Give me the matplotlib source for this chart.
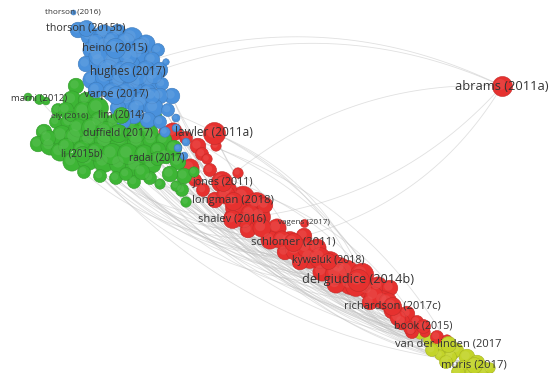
import numpy as np
import matplotlib
matplotlib.use("Agg")
import matplotlib.pyplot as plt
from matplotlib.collections import LineCollection
from matplotlib.colors import to_rgb

plt.rcParams['font.family'] = ['Open Sans', 'DejaVu Sans']

# labelled publications: map position, label weight, node radius, cluster
labels = ["thorson (2016)", "thorson (2015b)", "heino (2015)", "hughes (2017)",
          "varpe (2017)", "marni (2012)", "ely (2016)", "lim (2014)",
          "duffield (2017)", "lawler (2011a)", "li (2015b)", "radai (2017)",
          "jones (2011)", "longman (2018)", "shalev (2016)", "vagens (2017)",
          "schlomer (2011)", "kyweluk (2018)", "del giudice (2014b)",
          "richardson (2017c)", "book (2015)", "van der linden (2017",
          "muris (2017)", "abrams (2011a)"]
label_x = [73, 86, 115, 128, 116, 39, 70, 121, 118, 214, 82, 157,
           223, 233, 232, 304, 293, 328, 358, 392, 423, 448, 474, 502]
label_y = [12, 28, 48, 72, 95, 99, 116, 115, 133, 133, 154, 158,
           183, 201, 219, 223, 242, 261, 280, 306, 326, 344, 365, 86]
label_w = [3.8, 7.5, 8.2, 8.6, 8.0, 5.6, 4.1, 6.4, 7.0, 9.3, 6.0, 6.4,
           7.5, 8.3, 8.0, 3.8, 8.3, 7.2, 10.3, 8.0, 7.4, 8.0, 8.2, 10.5]
label_r = [2.5, 8, 10, 10, 9, 5, 5, 8, 9, 11, 8, 7,
           8, 9, 9, 4, 9, 8, 11, 9, 7, 8, 8, 10]
label_cluster = ["blue", "blue", "blue", "blue", "blue", "green", "green", "green",
                 "green", "red", "green", "green", "red", "red", "red", "red",
                 "red", "red", "red", "red", "red", "yellow", "yellow", "red"]

# unlabelled publications per cluster
blue_x = [78, 90, 104, 118, 132, 146, 158, 92, 106, 122, 138, 152, 86, 100, 114,
          130, 146, 160, 166, 92, 106, 120, 136, 150, 162, 172, 160, 128, 142, 154,
          168, 118, 134, 148, 160, 165, 176, 178, 186, 184, 176,
          96, 112, 126, 140, 98, 128, 108, 122, 138, 154, 96, 112, 126, 148, 136,
          152, 124]
blue_y = [30, 36, 34, 32, 38, 44, 50, 50, 46, 48, 54, 60, 64, 62, 62,
          66, 70, 70, 62, 80, 78, 82, 84, 82, 84, 96, 96, 100, 102, 108,
          110, 108, 116, 120, 122, 132, 118, 148, 142, 156, 128,
          42, 40, 42, 46, 56, 56, 70, 72, 76, 76, 90, 92, 92, 92, 108,
          96, 122]
blue_w = [6, 7, 7, 6, 8, 7, 5, 7, 8, 8, 8, 6, 6, 8, 9,
          8, 7, 6, 2.5, 7, 8, 8, 8, 7, 5, 6, 6, 7, 8, 7,
          5, 6, 6, 6, 5, 4, 3, 3, 3, 3, 3,
          6, 6, 7, 6, 7, 7, 8, 8, 7, 6, 6, 7, 7, 6, 6,
          6, 5]

green_x = [28, 46, 76, 72, 86, 58, 56, 70, 84, 98, 100, 116, 132, 146, 156, 44,
           38, 50, 62, 76, 90, 106, 122, 138, 152, 164, 60, 72, 88, 104, 120,
           136, 152, 166, 174, 178, 184, 170, 150, 134, 116, 100, 182, 186, 176,
           194, 160,
           66, 78, 92, 106, 120, 136, 150, 48, 82, 96, 112, 128, 144, 158, 66,
           84, 126, 142]
green_y = [97, 101, 86, 100, 100, 110, 122, 122, 112, 108, 122, 124, 124, 128, 118, 132,
           144, 146, 136, 138, 140, 142, 140, 142, 140, 140, 152, 162, 160, 162, 164,
           166, 164, 156, 148, 162, 176, 174, 178, 182, 178, 176, 190, 202, 186,
           172, 184,
           110, 128, 128, 132, 132, 134, 132, 138, 150, 152, 154, 154, 154, 150, 146,
           172, 174, 172]
green_w = [3, 3, 6, 7, 6, 5, 5, 7, 8, 8, 8, 8, 8, 7, 5, 6,
           6, 7, 8, 9, 8, 9, 9, 8, 7, 6, 7, 7, 8, 8, 8,
           8, 7, 6, 6, 6, 6, 6, 5, 5, 5, 5, 5, 4, 4,
           4, 4,
           6, 7, 8, 8, 8, 7, 6, 6, 7, 7, 8, 8, 7, 6, 6,
           5, 5, 6]

red_x = [143, 173, 164, 186, 198, 202, 207, 190, 210, 238, 203, 222, 195, 243, 257,
         215, 233, 260, 248, 277, 270, 290, 304, 317, 310, 330, 322, 340, 347, 362,
         350, 336, 368, 378, 390, 383, 370, 393, 407, 402, 417, 412, 425, 437, 447,
         229, 285, 300,
         216, 226, 236, 250, 262, 282, 296, 306, 320, 336, 356, 374, 388, 398, 410,
         265, 244]
red_y = [98, 132, 132, 138, 146, 154, 159, 168, 170, 173, 190, 182, 180, 198, 203,
         200, 218, 217, 230, 228, 240, 242, 236, 248, 258, 262, 272, 268, 272, 275,
         284, 284, 290, 286, 288, 300, 302, 310, 314, 322, 322, 332, 332, 337, 340,
         190, 252, 262,
         146, 195, 208, 214, 228, 240, 250, 248, 258, 274, 286, 296, 302, 318, 328,
         205, 220]
red_w = [5, 7, 4, 5, 6, 5, 4, 7, 5, 4, 5, 8, 5, 9, 8,
         6, 7, 8, 6, 7, 7, 8, 6, 7, 8, 8, 7, 8, 9, 9,
         8, 7, 7, 7, 6, 7, 6, 7, 6, 6, 5, 5, 4, 5, 4,
         6, 6, 6,
         4, 7, 8, 7, 7, 7, 8, 7, 8, 8, 8, 7, 7, 6, 5,
         6, 6]

yellow_x = [420, 430, 443, 452, 457, 467, 477, 485, 450, 463, 440, 472,
            432, 446, 458, 490]
yellow_y = [334, 340, 347, 352, 350, 357, 363, 370, 357, 367, 355, 372,
            350, 362, 372, 368]
yellow_w = [4, 5, 6, 6, 5, 6, 6, 6, 5, 5, 4, 5,
            5, 5, 5, 4]

# co-citation links (n = labelled, b/g/r/y = cluster index)
edges = [
    ("n23", "b17"), ("n23", "b11"), ("n23", "n12"), ("r22", "n23"), ("n14", "n23"),
    ("g21", "r29"), ("g22", "n18"), ("g23", "n19"), ("g30", "r35"), ("g31", "n20"),
    ("g28", "r24"), ("g29", "n17"), ("g19", "n16"), ("g10", "r27"), ("g11", "n21"),
    ("g12", "y3"), ("g13", "n22"), ("g20", "r32"), ("g24", "r37"), ("g25", "y5"),
    ("g32", "r38"), ("g33", "r41"), ("g34", "n19"), ("g35", "y2"), ("g36", "n22"),
    ("g37", "r43"), ("g38", "r33"), ("g39", "n18"), ("g40", "r25"), ("g41", "r31"),
    ("g27", "r20"), ("g41", "r24"), ("g40", "r18"), ("g18", "n14"), ("n8", "r29"),
    ("n10", "n18"), ("n11", "n19"), ("n7", "r34"), ("n6", "r26"), ("n5", "n13"),
    ("n10", "y6"), ("g39", "r36"), ("g38", "n21"),
    ("b25", "r30"), ("b26", "n20"), ("b28", "r36"), ("b29", "y6"), ("b30", "n21"),
    ("b33", "r28"), ("b34", "r39"), ("b22", "n18"), ("b23", "n19"), ("b16", "r25"),
    ("b17", "r37"), ("n3", "n18"), ("n4", "r33"), ("n2", "n16"), ("b35", "r40"),
    ("b37", "y1"), ("b38", "r42"), ("b39", "n17"), ("b36", "r44"),
    ("n9", "n18"), ("n9", "n19"), ("r1", "r29"), ("r3", "r35"), ("r4", "n20"),
    ("r7", "n17"), ("r11", "r31"), ("n12", "n21"), ("n13", "y4"), ("r13", "r37"),
    ("r14", "r40"), ("n14", "n22"), ("r16", "r38"), ("r17", "y7"), ("r19", "n21"),
    ("n16", "y5"), ("r21", "n22"), ("r23", "y8"), ("n17", "y9"), ("r25", "y6"),
    ("n18", "n22"), ("r29", "y3"), ("r30", "y10"), ("n19", "y11"),
    ("g42", "r13"), ("g43", "r16"), ("g44", "r18"), ("g45", "r14"), ("g46", "r20"),
    ("r10", "r23"), ("r12", "r24"), ("r15", "r26"), ("r45", "r27"), ("r18", "r31"),
    ("r20", "r36"), ("r46", "r39"), ("r47", "r41"), ("r24", "r43"), ("r26", "y0"),
    ("r31", "y1"), ("r36", "y4"), ("n15", "r38"), ("r22", "r34"), ("n13", "r32"),
    ("n12", "r30"), ("r8", "r28"), ("r5", "r25"), ("r6", "r23"), ("b40", "r21"),
    ("b36", "r19"), ("g14", "r17"), ("n11", "r22"), ("g24", "r46"), ("g25", "r47"),
    ("n18", "n9"), ("n19", "r1"), ("r33", "n4"), ("n21", "r3"), ("r37", "r7"),
    ("r40", "n12"), ("r29", "n9"), ("n16", "r1"),
]

COLORS = {"blue": "#4a91dc", "green": "#3db535", "red": "#e6312f", "yellow": "#c3d42a"}
R_SCALE = 1.3

nodes = {"n": (label_x, label_y), "b": (blue_x, blue_y), "g": (green_x, green_y),
         "r": (red_x, red_y), "y": (yellow_x, yellow_y)}


def pos(key):
    xs, ys = nodes[key[0]]
    i = int(key[1:])
    return np.array([xs[i], ys[i]], dtype=float)


def curve(a, b, k=0.2, n=50):
    d = b - a
    c = (a + b) / 2 + k * np.array([-d[1], d[0]])
    t = np.linspace(0, 1, n)[:, None]
    return (1 - t) ** 2 * a + 2 * (1 - t) * t * c + t ** 2 * b


def shade(color, f):
    rgb = np.array(to_rgb(color))
    if f < 1:
        return tuple(rgb * f)
    return tuple(rgb + (1 - rgb) * (f - 1))


fig = plt.figure(figsize=(5.53, 3.73), dpi=100)
ax = fig.add_axes([0, 0, 1, 1])
ax.set_xlim(0, 553)
ax.set_ylim(373, 0)
ax.axis('off')

segs = [curve(pos(a), pos(b)) for a, b in edges]
ax.add_collection(LineCollection(segs, colors='#c2c2c2', linewidths=0.6, alpha=0.5, zorder=1))


def draw_nodes(xs, ys, rs, color):
    xs = np.asarray(xs, float)
    ys = np.asarray(ys, float)
    rs = np.asarray(rs, float)
    s = (1.44 * rs) ** 2
    ax.scatter(xs, ys, s=s, color=color, edgecolors=[shade(color, 0.85)],
               linewidths=0.4, zorder=2)
    ax.scatter(xs - 0.2 * rs, ys - 0.2 * rs, s=s * 0.3, color=shade(color, 1.18),
               linewidths=0, alpha=0.45, zorder=2)


draw_nodes(yellow_x, yellow_y, np.array(yellow_w) * R_SCALE, COLORS["yellow"])
draw_nodes(red_x, red_y, np.array(red_w) * R_SCALE, COLORS["red"])
draw_nodes(green_x, green_y, np.array(green_w) * R_SCALE, COLORS["green"])
draw_nodes(blue_x, blue_y, np.array(blue_w) * R_SCALE, COLORS["blue"])
for i in range(len(labels)):
    draw_nodes([label_x[i]], [label_y[i]], [label_r[i]], COLORS[label_cluster[i]])

for i, name in enumerate(labels):
    ax.text(label_x[i], label_y[i], name, fontsize=4 + 0.5 * label_w[i],
            color='#333333', ha='center', va='center', zorder=3)

fig.savefig('out.png', dpi=100)
